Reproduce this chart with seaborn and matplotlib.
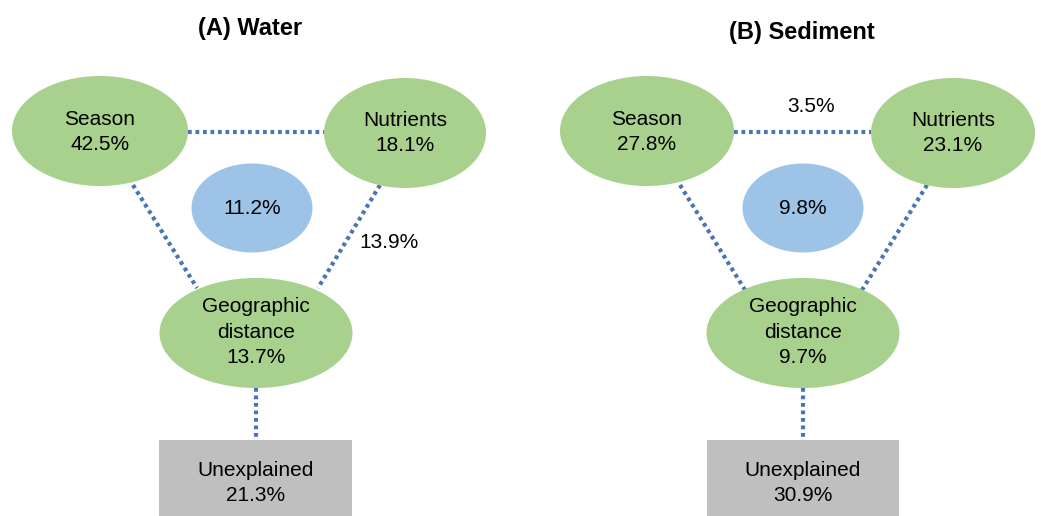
import matplotlib
matplotlib.use("Agg")
import matplotlib.pyplot as plt
from matplotlib.patches import Ellipse, Rectangle
import seaborn as sns
import pandas as pd

# Variance partitioning values (%)
panels = ["(A) Water", "(B) Sediment"]
season = [42.5, 27.8]
nutrients = [18.1, 23.1]
geo_distance = [13.7, 9.7]
shared_all = [11.2, 9.8]
season_nutrients = [None, 3.5]
nutrients_geo = [13.9, None]
unexplained = [21.3, 30.9]

sns.set_theme(style="white")
plt.rcParams['font.family'] = ['Liberation Sans', 'DejaVu Sans']
plt.rcParams['text.color'] = 'black'

GREEN = "#a9d18e"
BLUE = "#9dc3e6"
GRAY = "#bfbfbf"
LINE = "#4a74b4"
FS = 15

fig = plt.figure(figsize=(10.41, 5.16), dpi=100)
ax = fig.add_axes([0, 0, 1, 1])
ax.set_xlim(0, 1041)
ax.set_ylim(516, 0)
ax.set_aspect("equal")
ax.axis("off")

# layout of each panel (pixel frame)
layout = [
    dict(title=(250, 28), season=(100, 131, 176), nutr=(405, 133, 162), blue=(252, 208),
         geo=(256, 333), box=(159, 440, 193), sg=((133, 185), (197, 288)),
         ng=((380, 185), (318, 288)), sn_lab=(455, 106), ng_lab=(389, 242)),
    dict(title=(802, 32), season=(647, 131, 174), nutr=(953, 133, 164), blue=(803, 208),
         geo=(803, 333), box=(707, 440, 192), sg=((680, 185), (745, 290)),
         ng=((927, 185), (862, 290)), sn_lab=(811, 106), ng_lab=(940, 242)),
]

for i, L in enumerate(layout):
    sx, sy, sw = L["season"]
    nx, ny, nw = L["nutr"]
    gx, gy = L["geo"]
    bx, by, bw = L["box"]

    # dotted connectors
    segs = [
        ((sx + sw / 2, 132), (nx - nw / 2, 132)),
        L["sg"],
        L["ng"],
        ((gx, gy + 55), (gx, by)),
    ]
    for p0, p1 in segs:
        df = pd.DataFrame({"x": [p0[0], p1[0]], "y": [p0[1], p1[1]]})
        sns.lineplot(data=df, x="x", y="y", ax=ax, color=LINE, lw=3,
                     linestyle=(0, (0.9, 0.9)), sort=False, estimator=None,
                     dash_capstyle="butt", zorder=1)

    ax.add_patch(Ellipse((sx, sy), sw, 110, color=GREEN, ec="none", zorder=2))
    ax.add_patch(Ellipse((nx, ny), nw, 110, color=GREEN, ec="none", zorder=2))
    ax.add_patch(Ellipse(L["blue"], 121, 89, color=BLUE, ec="none", zorder=2))
    ax.add_patch(Ellipse((gx, gy), 193, 110, color=GREEN, ec="none", zorder=2))
    ax.add_patch(Rectangle((bx, by), bw, 80, color=GRAY, ec="none", zorder=2))

    kw = dict(ha="center", va="center", fontsize=FS, linespacing=1.45,
              color="black", zorder=3)
    ax.text(sx, sy + 1, f"Season\n{season[i]}%", **kw)
    ax.text(nx, ny, f"Nutrients\n{nutrients[i]}%", **kw)
    ax.text(L["blue"][0], L["blue"][1], f"{shared_all[i]}%", **kw)
    ax.text(gx, gy - 1, f"Geographic\ndistance\n{geo_distance[i]}%", **kw)
    ax.text(gx, 483, f"Unexplained\n{unexplained[i]}%", **kw)
    if season_nutrients[i] is not None:
        ax.text(*L["sn_lab"], f"{season_nutrients[i]}%", **kw)
    if nutrients_geo[i] is not None:
        ax.text(*L["ng_lab"], f"{nutrients_geo[i]}%", **kw)

    ax.text(*L["title"], panels[i], ha="center", va="center", fontsize=17,
            fontweight="bold", color="black")

ax.set_xlabel("")
ax.set_ylabel("")
fig.savefig("out.png", dpi=100)
